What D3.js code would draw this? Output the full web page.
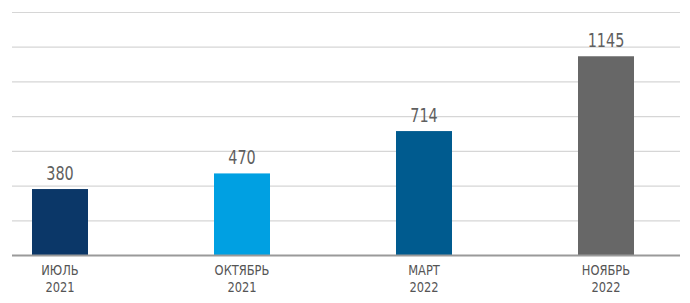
<!DOCTYPE html>
<html>
<head>
<meta charset="utf-8">
<script src="https://cdn.jsdelivr.net/npm/d3@7"></script>
<style>
  body { margin: 0; background: #fff; }
  svg { display: block; }
</style>
</head>
<body>
<svg width="690" height="303"></svg>
<script>
// data
const months = ['ИЮЛЬ', 'ОКТЯБРЬ', 'МАРТ', 'НОЯБРЬ'];
const years = ['2021', '2021', '2022', '2022'];
const values = [380, 470, 714, 1145];
const colors = ['#0b3768', '#00a0e2', '#005b8f', '#676767'];
const gridTicks = [0, 200, 400, 600, 800, 1000, 1200, 1400];

const svg = d3.select('svg');
const font = '"DejaVu Sans Condensed", "Liberation Sans Narrow", sans-serif';

const data = months.map((m, i) => ({ key: i, month: m, year: years[i], value: values[i], color: colors[i] }));

// scales
const x = d3.scalePoint()
  .domain(data.map(d => d.key))
  .range([60, 606]);

const y = d3.scaleLinear()
  .domain([0, 1400])
  .range([255, 12]);

const barW = 56;

// gridlines, drawn leftwards from the right edge
const yAxis = d3.axisLeft(y)
  .tickValues(gridTicks.slice(1))
  .tickSize(668)
  .tickFormat('');

svg.append('g')
  .attr('transform', 'translate(680,0)')
  .call(yAxis)
  .call(g => g.select('.domain').remove())
  .call(g => g.selectAll('.tick line').attr('stroke', '#d6d6d6').attr('stroke-width', 1.2));

// bars
svg.selectAll('rect.bar')
  .data(data)
  .enter()
  .append('rect')
  .attr('class', 'bar')
  .attr('x', d => x(d.key) - barW / 2)
  .attr('width', barW)
  .attr('y', d => y(d.value))
  .attr('height', d => y(0) - y(d.value))
  .attr('fill', d => d.color);

// baseline
svg.append('line')
  .attr('x1', 12).attr('x2', 680)
  .attr('y1', y(0) + 0.5).attr('y2', y(0) + 0.5)
  .attr('stroke', '#9a9a9a')
  .attr('stroke-width', 2);

// value labels (squeezed horizontally to mimic the narrow font)
svg.selectAll('text.val')
  .data(data)
  .enter()
  .append('text')
  .attr('class', 'val')
  .attr('transform', d => `translate(${x(d.key)},${y(d.value) - 9}) scale(0.8,1)`)
  .attr('text-anchor', 'middle')
  .attr('font-family', font)
  .attr('font-size', 20)
  .attr('fill', '#5f5f5f')
  .text(d => d.value);

// category labels
const cat = svg.selectAll('text.cat')
  .data(data)
  .enter()
  .append('text')
  .attr('class', 'cat')
  .attr('transform', d => `translate(${x(d.key)},0) scale(0.88,1)`)
  .attr('text-anchor', 'middle')
  .attr('font-family', font)
  .attr('font-size', 14.5)
  .attr('fill', '#555');

cat.append('tspan')
  .attr('x', 0)
  .attr('y', 275)
  .text(d => d.month);

cat.append('tspan')
  .attr('x', 0)
  .attr('y', 292)
  .text(d => d.year);
</script>
</body>
</html>
